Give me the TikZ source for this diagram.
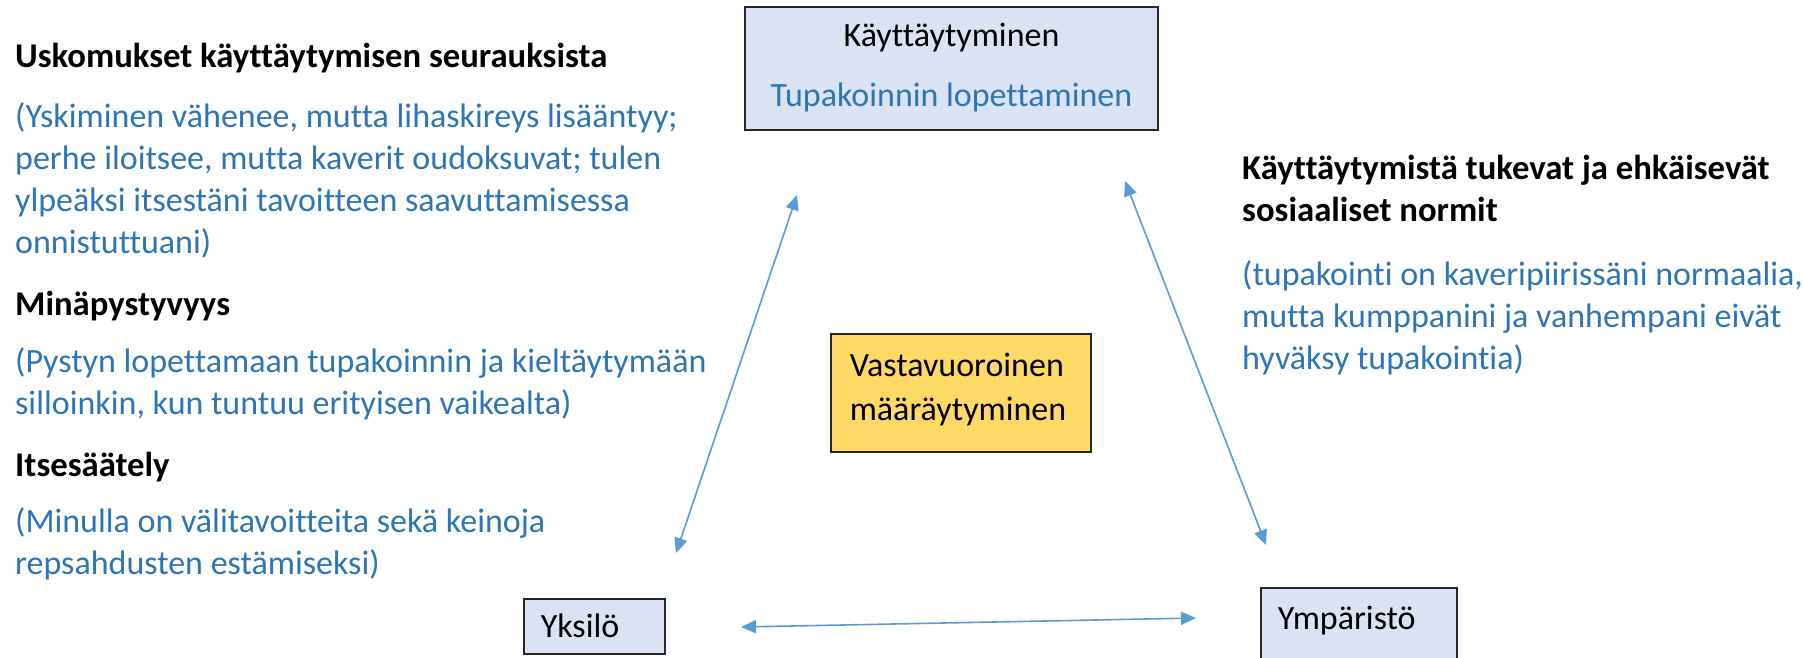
\documentclass[tikz,border=0pt]{standalone}
\usepackage{fontspec}
\setmainfont{Carlito}[Ligatures={NoCommon}]
\usetikzlibrary{arrows.meta}
\definecolor{txtblue}{HTML}{2E75B6}
\definecolor{arrblue}{HTML}{5B9BD5}
\definecolor{boxblue}{HTML}{DAE3F3}
\definecolor{boxyellow}{HTML}{FFD966}
\definecolor{edgegray}{HTML}{262626}
\begin{document}
\begin{tikzpicture}[x=1pt,y=-1pt,
  every node/.style={inner sep=0pt, font=\fontsize{34}{42}\selectfont},
  head/.style={anchor=north west, align=left, font=\fontsize{34.7}{42}\selectfont\bfseries},
  note/.style={anchor=north west, align=left, text=txtblue},
  panel/.style={draw=edgegray, line width=1.5pt, fill=boxblue},
  link/.style={draw=arrblue, line width=1.6pt,
    {Triangle[length=15pt,width=13pt]}-{Triangle[length=15pt,width=13pt]}}
]
\clip (0,0) rectangle (1803,657);
\fill[white] (0,0) rectangle (1803,657);

% left column: personal factors
\node[head] (h1) at (15,37.6) {\strut Uskomukset käyttäytymisen seurauksista};
\node[note] (p1) at (15,97.6) {\strut(Yskiminen vähenee, mutta lihaskireys lisääntyy;\\
  perhe iloitsee, mutta kaverit oudoksuvat; tulen\\
  ylpeäksi itsestäni tavoitteen saavuttamisessa\\
  onnistuttuani)};
\node[head] (h2) at (15,285.6) {\strut Minäpystyvyys};
\node[note] (p2) at (15,342.6) {\strut(Pystyn lopettamaan tupakoinnin ja kieltäytymään\\
  silloinkin, kun tuntuu erityisen vaikealta)};
\node[head] (h3) at (15,446.6) {\strut Itsesäätely};
\node[note] (p3) at (15,502.6) {\strut(Minulla on välitavoitteita sekä keinoja\\
  repsahdusten estämiseksi)};

% right column: environment
\node[head] (h4) at (1242,149.6) {\strut Käyttäytymistä tukevat ja ehkäisevät\\
  sosiaaliset normit};
\node[note] (p4) at (1242,255.6) {\strut(tupakointi on kaveripiirissäni normaalia,\\
  mutta kumppanini ja vanhempani eivät\\
  hyväksy tupakointia)};

% the three corners of the triangle
\node[panel, minimum width=413pt, minimum height=123pt, align=center]
  (beh) at (951.5,68.5)
  {\strut Käyttäytyminen\\[18pt]\textcolor{txtblue}{Tupakoinnin lopettaminen}\strut};
\node[panel, anchor=north west, inner xsep=17pt, text width=107pt, align=left,
  text height=39pt, text depth=16pt] (ind) at (523,598) {Yksilö};
\node[panel, anchor=north west, inner xsep=17pt, text width=162pt, align=left,
  text height=42pt, text depth=71pt] (env) at (1260,587) {Ympäristö};

% centre
\node[draw=edgegray, line width=1.5pt, fill=boxyellow, anchor=north west,
  inner xsep=19pt, text width=222pt, align=left, minimum height=118pt]
  (rec) at (830,333)
  {\strut Vastavuoroinen\\[2pt]määräytyminen\rule[-18pt]{0pt}{18pt}};

% reciprocal links
\coordinate (ls) at (676,553);
\coordinate (lt) at (797,195);
\coordinate (rt) at (1125,181);
\coordinate (rs) at (1266,545);
\coordinate (bl) at (741,627);
\coordinate (br) at (1196,618);
\draw[link] (ls) -- (lt);
\draw[link] (rt) -- (rs);
\draw[link] (bl) -- (br);
\end{tikzpicture}
\end{document}
